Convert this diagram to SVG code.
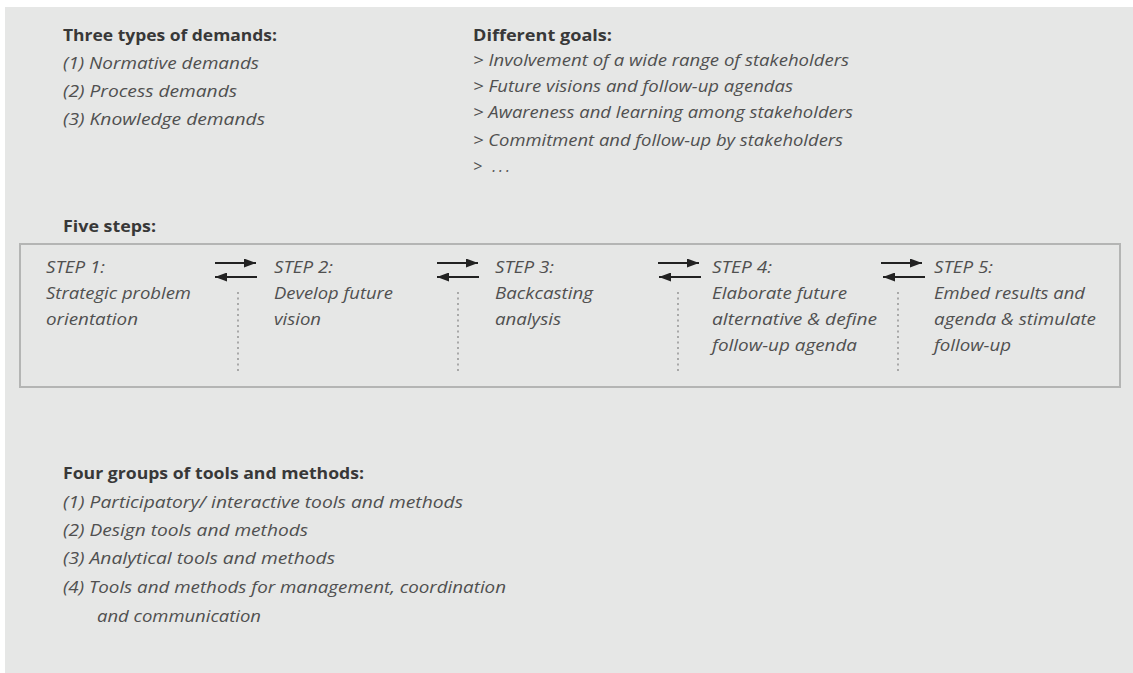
<svg xmlns="http://www.w3.org/2000/svg" width="1133" height="673" viewBox="0 0 1133 673">
  <defs>
    <marker id="head" viewBox="0 0 12 9" refX="12" refY="4.5" markerWidth="12" markerHeight="9" markerUnits="userSpaceOnUse" orient="auto">
      <path d="M0,0 L12,4.5 L0,9 Z" fill="#222"/>
    </marker>
    <style>
      .h { font-family: "Open Sans", "Noto Sans", sans-serif; font-weight: 700; font-size: 16px; fill: #383838; }
      .t { font-family: "Open Sans", "Noto Sans", sans-serif; font-style: italic; font-size: 16px; fill: #505050; }
      .arr { stroke: #222; stroke-width: 1.8; fill: none; marker-end: url(#head); }
      .dot { stroke: #9a9a9a; stroke-width: 1.6; stroke-dasharray: 2 3.5; fill: none; }
    </style>
  </defs>

  <!-- page background -->
  <rect x="0" y="0" width="1133" height="673" fill="#ffffff"/>
  <rect x="5" y="7" width="1128" height="666" fill="#e6e7e6"/>

  <!-- demands -->
  <g id="demands">
    <text class="h" x="63" y="41" textLength="214" lengthAdjust="spacingAndGlyphs">Three types of demands:</text>
    <text class="t" x="63" y="69" textLength="196" lengthAdjust="spacingAndGlyphs">(1) Normative demands</text>
    <text class="t" x="63" y="97" textLength="174" lengthAdjust="spacingAndGlyphs">(2) Process demands</text>
    <text class="t" x="63" y="125" textLength="202" lengthAdjust="spacingAndGlyphs">(3) Knowledge demands</text>
  </g>

  <!-- goals -->
  <g id="goals">
    <text class="h" x="473" y="41" textLength="139" lengthAdjust="spacingAndGlyphs">Different goals:</text>
    <text class="t" x="473" y="66" textLength="376" lengthAdjust="spacingAndGlyphs">&gt; Involvement of a wide range of stakeholders</text>
    <text class="t" x="473" y="92" textLength="320" lengthAdjust="spacingAndGlyphs">&gt; Future visions and follow-up agendas</text>
    <text class="t" x="473" y="118" textLength="380" lengthAdjust="spacingAndGlyphs">&gt; Awareness and learning among stakeholders</text>
    <text class="t" x="473" y="146" textLength="370" lengthAdjust="spacingAndGlyphs">&gt; Commitment and follow-up by stakeholders</text>
    <text class="t" x="473" y="172" textLength="37" lengthAdjust="spacing">&gt; ...</text>
  </g>

  <!-- five steps -->
  <text class="h" x="63" y="232" textLength="93" lengthAdjust="spacingAndGlyphs">Five steps:</text>
  <rect id="steps-frame" x="20" y="244" width="1100" height="143" fill="none" stroke="#b4b5b4" stroke-width="2"/>

  <g id="step1">
    <text class="t" x="46" y="273" textLength="59" lengthAdjust="spacingAndGlyphs">STEP 1:</text>
    <text class="t" x="46" y="299" textLength="145" lengthAdjust="spacingAndGlyphs">Strategic problem</text>
    <text class="t" x="46" y="325" textLength="92" lengthAdjust="spacingAndGlyphs">orientation</text>
  </g>
  <g id="step2">
    <text class="t" x="274" y="273" textLength="59" lengthAdjust="spacingAndGlyphs">STEP 2:</text>
    <text class="t" x="274" y="299" textLength="119" lengthAdjust="spacingAndGlyphs">Develop future</text>
    <text class="t" x="274" y="325" textLength="47" lengthAdjust="spacingAndGlyphs">vision</text>
  </g>
  <g id="step3">
    <text class="t" x="495" y="273" textLength="59" lengthAdjust="spacingAndGlyphs">STEP 3:</text>
    <text class="t" x="495" y="299" textLength="98" lengthAdjust="spacingAndGlyphs">Backcasting</text>
    <text class="t" x="495" y="325" textLength="66" lengthAdjust="spacingAndGlyphs">analysis</text>
  </g>
  <g id="step4">
    <text class="t" x="712" y="273" textLength="60" lengthAdjust="spacingAndGlyphs">STEP 4:</text>
    <text class="t" x="712" y="299" textLength="135" lengthAdjust="spacingAndGlyphs">Elaborate future</text>
    <text class="t" x="712" y="325" textLength="165" lengthAdjust="spacingAndGlyphs">alternative &amp; define</text>
    <text class="t" x="712" y="351" textLength="145" lengthAdjust="spacingAndGlyphs">follow-up agenda</text>
  </g>
  <g id="step5">
    <text class="t" x="934" y="273" textLength="59" lengthAdjust="spacingAndGlyphs">STEP 5:</text>
    <text class="t" x="934" y="299" textLength="151" lengthAdjust="spacingAndGlyphs">Embed results and</text>
    <text class="t" x="934" y="325" textLength="162" lengthAdjust="spacingAndGlyphs">agenda &amp; stimulate</text>
    <text class="t" x="934" y="351" textLength="77" lengthAdjust="spacingAndGlyphs">follow-up</text>
  </g>

  <!-- two-way arrows and dotted separators between steps -->
  <g id="connectors">
    <line class="arr" x1="215" y1="263" x2="256" y2="263"/>
    <line class="arr" x1="257" y1="277" x2="215" y2="277"/>
    <line class="dot" x1="238" y1="292" x2="238" y2="374"/>

    <line class="arr" x1="437" y1="263" x2="478" y2="263"/>
    <line class="arr" x1="479" y1="277" x2="437" y2="277"/>
    <line class="dot" x1="458" y1="292" x2="458" y2="374"/>

    <line class="arr" x1="658" y1="263" x2="699" y2="263"/>
    <line class="arr" x1="701" y1="277" x2="659" y2="277"/>
    <line class="dot" x1="678" y1="292" x2="678" y2="374"/>

    <line class="arr" x1="881" y1="263" x2="922" y2="263"/>
    <line class="arr" x1="925" y1="277" x2="883" y2="277"/>
    <line class="dot" x1="898" y1="292" x2="898" y2="374"/>
  </g>

  <!-- tools and methods -->
  <g id="tools">
    <text class="h" x="63" y="479" textLength="301" lengthAdjust="spacingAndGlyphs">Four groups of tools and methods:</text>
    <text class="t" x="63" y="508" textLength="400" lengthAdjust="spacingAndGlyphs">(1) Participatory/ interactive tools and methods</text>
    <text class="t" x="63" y="536" textLength="245" lengthAdjust="spacingAndGlyphs">(2) Design tools and methods</text>
    <text class="t" x="63" y="564" textLength="272" lengthAdjust="spacingAndGlyphs">(3) Analytical tools and methods</text>
    <text class="t" x="63" y="593" textLength="443" lengthAdjust="spacingAndGlyphs">(4) Tools and methods for management, coordination</text>
    <text class="t" x="97" y="622" textLength="164" lengthAdjust="spacingAndGlyphs">and communication</text>
  </g>
</svg>
